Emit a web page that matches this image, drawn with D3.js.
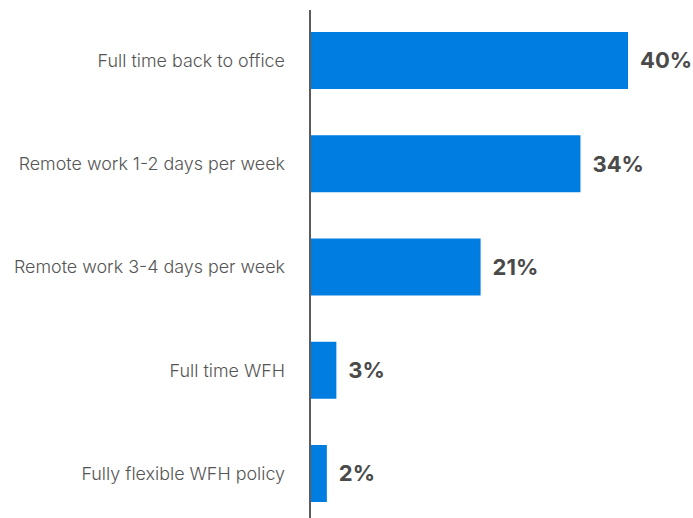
<!DOCTYPE html>
<html>
<head>
<meta charset="utf-8">
<script src="https://cdn.jsdelivr.net/npm/d3@7"></script>
<style>
  body { margin: 0; background: #fff; }
  svg { display: block; font-family: Inter, "Noto Sans", sans-serif; }
</style>
</head>
<body>
<script>
// data
var categories = ["Full time back to office", "Remote work 1-2 days per week", "Remote work 3-4 days per week", "Full time WFH", "Fully flexible WFH policy"];
var values = [40, 34, 21.4, 3.2, 2.0];
var valueLabels = ["40%", "34%", "21%", "3%", "2%"];

var width = 693, height = 518;
var svg = d3.select("body").append("svg").attr("width", width).attr("height", height);

var x = d3.scaleLinear().domain([0, 40]).range([311, 628]);
var y = d3.scaleBand().domain(categories).range([32, 502]).paddingInner(0.448).paddingOuter(0);

var rows = categories.map(function(c, i) { return { cat: c, val: values[i], lab: valueLabels[i] }; });

// bars
svg.selectAll("rect.bar").data(rows).enter()
  .append("rect")
  .attr("class", "bar")
  .attr("x", x(0))
  .attr("y", function(d) { return y(d.cat); })
  .attr("width", function(d) { return x(d.val) - x(0); })
  .attr("height", y.bandwidth())
  .attr("fill", "#007de1");

// axis line on the left of bars
svg.append("line")
  .attr("x1", 310).attr("x2", 310)
  .attr("y1", 10).attr("y2", height)
  .attr("stroke", "#333").attr("stroke-width", 1.6);

// category labels
svg.selectAll("text.cat").data(rows).enter()
  .append("text")
  .attr("class", "cat")
  .attr("x", 285)
  .attr("y", function(d) { return y(d.cat) + y.bandwidth() / 2; })
  .attr("dy", "0.35em")
  .attr("text-anchor", "end")
  .attr("font-size", 17.9)
  .attr("font-weight", 300)
  .attr("fill", "#555")
  .text(function(d) { return d.cat; });

// value labels
svg.selectAll("text.val").data(rows).enter()
  .append("text")
  .attr("class", "val")
  .attr("x", function(d) { return x(d.val) + 12; })
  .attr("y", function(d) { return y(d.cat) + y.bandwidth() / 2; })
  .attr("dy", "0.36em")
  .attr("font-size", 22)
  .attr("font-weight", 700)
  .attr("fill", "#4a4a4a")
  .text(function(d) { return d.lab; });
</script>
</body>
</html>
